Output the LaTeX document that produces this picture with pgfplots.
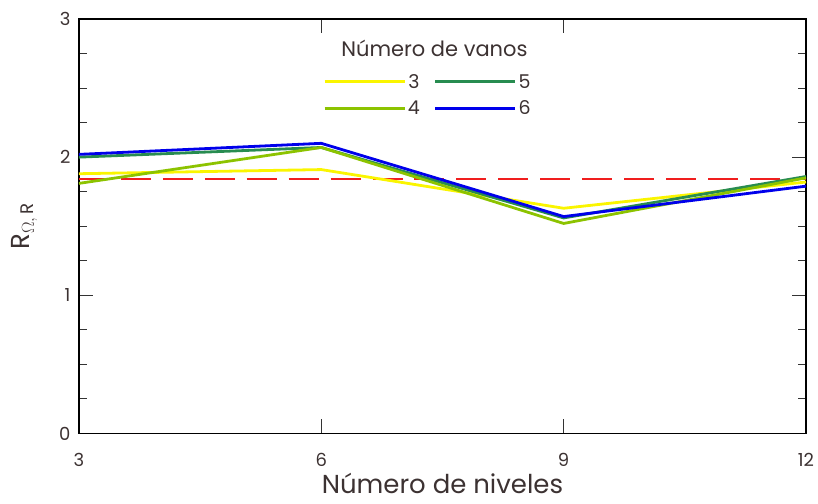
\documentclass[border=0pt]{standalone}
\usepackage{pgfplots}
\pgfplotsset{compat=1.18}
\usepackage{fontspec}
\setmainfont{Poppins}
\definecolor{cyel}{RGB}{250,245,0}
\definecolor{cyg}{RGB}{140,195,0}
\definecolor{cgr}{RGB}{40,140,80}
\definecolor{cbl}{RGB}{0,0,235}
\definecolor{redline}{RGB}{240,30,30}
\definecolor{ctxt}{RGB}{60,50,50}
\begin{document}
\begin{tikzpicture}
\begin{axis}[
  name=ax,
  scale only axis, width=728pt, height=415pt,
  xmin=3, xmax=12, ymin=0, ymax=3,
  xtick={3,6,9,12}, ytick={0,1,2,3},
  minor y tick num=3,
  tick align=inside,
  major tick length=14pt, minor tick length=8pt,
  every tick/.style={black!80, line width=0.9pt},
  axis line style={line width=1.6pt},
  tick label style={font=\fontsize{18}{20}\selectfont, text=ctxt},
  /pgf/number format/assume math mode=true,
  xticklabel style={yshift=-16pt},
  yticklabel style={xshift=-5pt},
  xlabel={Número de niveles}, ylabel={R$_{\Omega,\,\mathrm{R}}$},
  label style={font=\fontsize{26}{28}\selectfont, text=ctxt},
  xlabel style={at={(axis description cs:0.5,0)}, anchor=center, yshift=-50pt},
  ylabel style={at={(axis description cs:-0.075,0.5)}, anchor=center},
  legend columns=2,
  legend style={draw=none, fill=none, at={(0.48,0.877)}, anchor=north,
    font=\fontsize{19}{21}\selectfont, text=ctxt,
    /tikz/every even column/.append style={column sep=12pt},
    row sep=7pt},
  legend image code/.code={\draw[#1] (0pt,0pt) -- (80pt,0pt);},
]
\addplot[draw=redline, line width=1.7pt, dash pattern=on 30pt off 12pt, forget plot] coordinates {(3,1.84) (12,1.84)};
\addplot[cyel, line width=2.8pt] coordinates {(3,1.88) (6,1.91) (9,1.63) (12,1.82)};
\addlegendentry{3}
\addplot[cgr, line width=2.8pt] coordinates {(3,2.00) (6,2.07) (9,1.56) (12,1.86)};
\addlegendentry{5}
\addplot[cyg, line width=2.8pt] coordinates {(3,1.81) (6,2.07) (9,1.52) (12,1.85)};
\addlegendentry{4}
\addplot[cbl, line width=2.8pt] coordinates {(3,2.02) (6,2.10) (9,1.57) (12,1.79)};
\addlegendentry{6}
\node[font=\fontsize{21}{23}\selectfont, text=ctxt] at (axis description cs:0.489,0.930) {Número de vanos};
\end{axis}
\path ([shift={(-79pt,-70pt)}]ax.south west) rectangle ([shift={(12pt,19pt)}]ax.north east);
\end{tikzpicture}
\end{document}
